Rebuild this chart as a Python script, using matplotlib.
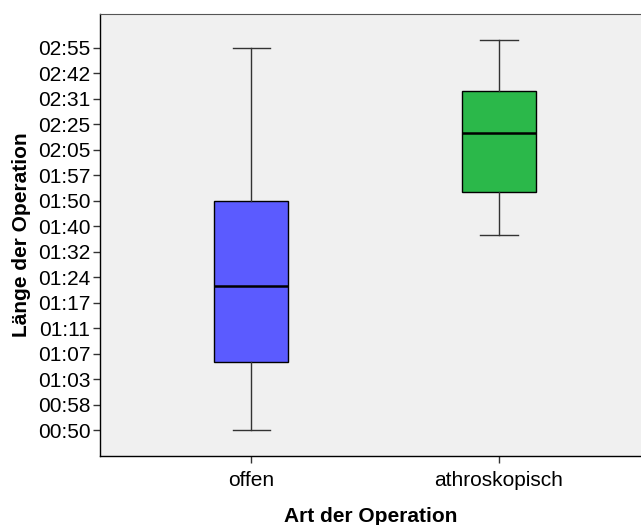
import matplotlib.pyplot as plt

plt.rcParams['font.family'] = ['Liberation Sans', 'DejaVu Sans']

# Duration tick labels (ordinal positions 0..15 on the value axis)
time_labels = ['00:50', '00:58', '01:03', '01:07', '01:11', '01:17', '01:24', '01:32',
               '01:40', '01:50', '01:57', '02:05', '02:25', '02:31', '02:42', '02:55']

groups = ['offen', 'athroskopisch']
whisker_low = [0.0, 7.66]
q1 = [2.67, 9.33]
median = [5.67, 11.65]
q3 = [9.0, 13.32]
whisker_high = [15.0, 15.31]
box_colors = ['#5b5bff', '#2bb84a']

stats = []
for i, name in enumerate(groups):
    stats.append({'label': name, 'whislo': whisker_low[i], 'q1': q1[i], 'med': median[i],
                  'q3': q3[i], 'whishi': whisker_high[i], 'fliers': []})

fig = plt.figure(figsize=(6.41, 5.25), dpi=100)
ax = fig.add_axes([100 / 641, 69 / 525, 1 - 100 / 641, 442 / 525])
ax.set_facecolor('#f0f0f0')

bp = ax.bxp(stats, positions=[1, 2], widths=0.3, patch_artist=True, showfliers=False,
            boxprops=dict(edgecolor='black', linewidth=1.0),
            medianprops=dict(color='black', linewidth=1.8),
            whiskerprops=dict(color='#333333', linewidth=1.0),
            capprops=dict(color='#333333', linewidth=1.0),
            capwidths=0.15)
for patch, c in zip(bp['boxes'], box_colors):
    patch.set_facecolor(c)

ax.set_xlim(0.39, 2.573)
ax.set_ylim(-1.02, 16.33)
ax.set_yticks(range(len(time_labels)))
ax.set_yticklabels(time_labels, fontsize=15)
ax.set_xticks([1, 2])
ax.set_xticklabels(groups, fontsize=15)
ax.tick_params(axis='both', length=5, width=1, color='#333333')
ax.tick_params(axis='y', pad=2)
ax.tick_params(axis='x', pad=6)

ax.spines['right'].set_visible(False)
ax.spines['top'].set_color('#555555')
for s in ['left', 'bottom']:
    ax.spines[s].set_color('black')
    ax.spines[s].set_linewidth(1.0)

ax.set_xlabel('Art der Operation', fontsize=15, fontweight='bold', labelpad=12)
ax.set_ylabel('Länge der Operation', fontsize=15, fontweight='bold', labelpad=5)

fig.savefig('out.png', dpi=100)
